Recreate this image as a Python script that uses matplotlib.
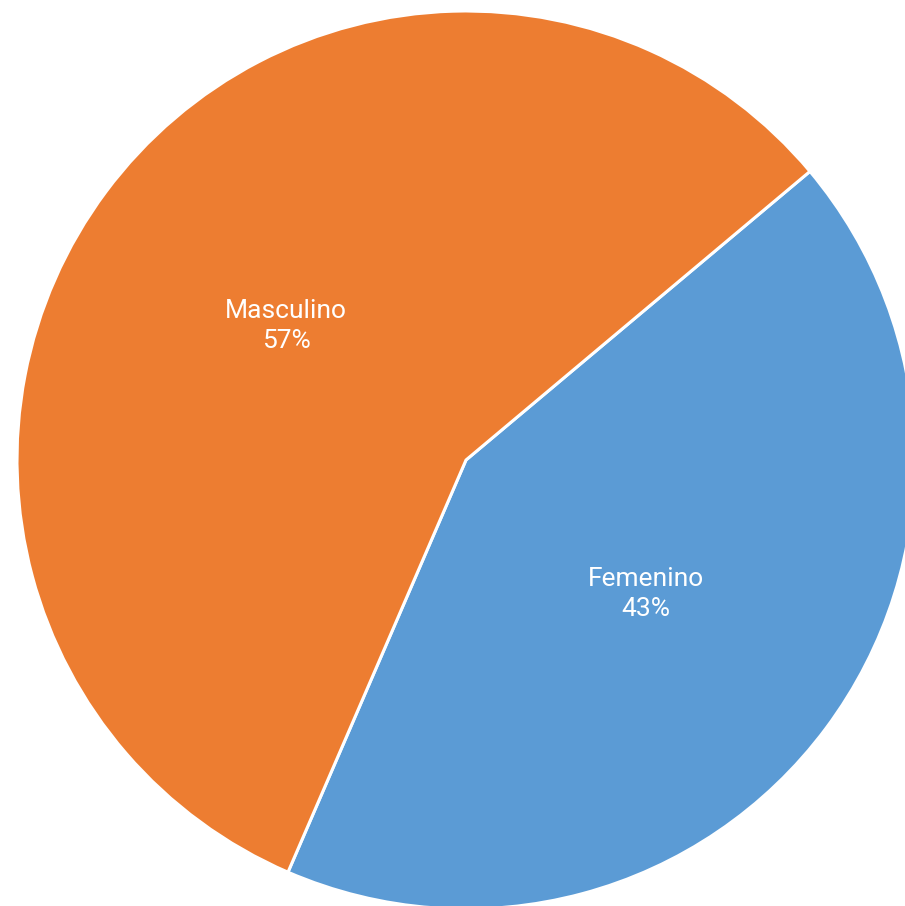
import matplotlib
matplotlib.use("Agg")
import matplotlib.pyplot as plt
import numpy as np

labels = ["Femenino", "Masculino"]
shares = [42.6, 57.4]
colors = ["#5B9BD5", "#ED7D31"]

W, H = 905, 906
fig = plt.figure(figsize=(W / 100, H / 100), dpi=100, facecolor="white")
ax = fig.add_axes([0, 0, 1, 1])

# pie drawn in pixel-like data coords so centre/radius match the picture
cx, cy, r = 466, -460, 449
wedges, _ = ax.pie(shares, colors=colors, startangle=40, counterclock=False,
                   center=(cx, cy), radius=r,
                   wedgeprops=dict(edgecolor="white", linewidth=2.2))

for w, lab, val in zip(wedges, labels, shares):
    mid = np.deg2rad((w.theta1 + w.theta2) / 2)
    x = cx + 0.5 * r * np.cos(mid)
    y = cy + 0.5 * r * np.sin(mid)
    ax.text(x, y, f"{lab}\n{val:.0f}%", ha="center", va="center", color="white",
            fontsize=19, family="Roboto", linespacing=1.3)

ax.set_xlim(0, W)
ax.set_ylim(-H, 0)
ax.set_aspect("equal")
ax.axis("off")

plt.savefig("out.png", dpi=100)
